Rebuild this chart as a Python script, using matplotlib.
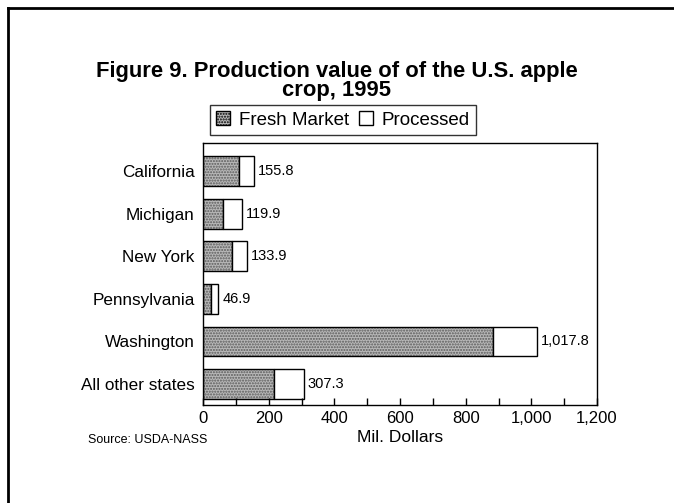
import matplotlib
matplotlib.use("Agg")
import matplotlib.pyplot as plt
from matplotlib.patches import Patch
from matplotlib.lines import Line2D

plt.rcParams['font.family'] = ['Liberation Sans', 'DejaVu Sans']

states = ["California", "Michigan", "New York", "Pennsylvania", "Washington", "All other states"]
totals = [155.8, 119.9, 133.9, 46.9, 1017.8, 307.3]
fresh = [110, 60, 89, 24, 882, 217]
processed = [t - f for t, f in zip(totals, fresh)]
x_ticks = [0, 200, 400, 600, 800, 1000, 1200]
x_ticklabels = ["0", "200", "400", "600", "800", "1,000", "1,200"]

W, H = 674, 503
fig = plt.figure(figsize=(W / 100, H / 100), dpi=100)
ax_top, ax_bot = 143, 405
ax = fig.add_axes([203 / W, 1 - ax_bot / H, (597 - 203) / W, (ax_bot - ax_top) / H])

y = list(range(len(states)))
h = 0.70
ax.barh(y, fresh, height=h, color="#b8b8b8", edgecolor="#5a5a5a", hatch="......", linewidth=0)
ax.barh(y, fresh, height=h, facecolor="none", edgecolor="black", linewidth=1.0)
ax.barh(y, processed, left=fresh, height=h, color="white", edgecolor="black", linewidth=1.0)

for yi, t in zip(y, totals):
    ax.text(t + 12, yi, f"{t:,.1f}", va="center", ha="left", fontsize=10.5)

ax.set_xlim(0, 1200)
ax.set_ylim(5.49, -0.657)
ax.set_yticks(y)
ax.set_yticklabels(states, fontsize=12.3)
ax.set_xticks(x_ticks)
ax.set_xticklabels(x_ticklabels, fontsize=12)
ax.set_xticks(range(100, 1200, 200), minor=True)
ax.tick_params(axis="x", which="both", direction="in", length=5, width=1, pad=4)
ax.tick_params(axis="y", length=0, pad=6)
for s in ax.spines.values():
    s.set_linewidth(1.0)
ax.set_xlabel("Mil. Dollars", fontsize=12.5, labelpad=3)

fig.text(0.5, 1 - 71 / H, "Figure 9. Production value of of the U.S. apple",
         ha="center", va="center", fontsize=15.8, fontweight="bold")
fig.text(0.5, 1 - 90 / H, "crop, 1995",
         ha="center", va="center", fontsize=15.8, fontweight="bold")

handles = [Patch(facecolor="#b8b8b8", edgecolor="black", hatch="......"),
           Patch(facecolor="white", edgecolor="black")]
leg = fig.legend(handles, ["Fresh Market", "Processed"], loc="center",
                 bbox_to_anchor=(343 / W, 1 - 120 / H), ncol=2, frameon=True, fancybox=False,
                 fontsize=13.5, handlelength=0.75, handleheight=0.7, handletextpad=0.45,
                 columnspacing=0.55, borderpad=0.35)
leg.get_frame().set_edgecolor("black")
leg.get_frame().set_linewidth(1.0)

fig.text(88 / W, 1 - 440 / H, "Source: USDA-NASS", ha="left", va="center", fontsize=9)

fig.add_artist(Line2D([0.012, 1.0], [0.984, 0.984], color="black", linewidth=2, transform=fig.transFigure))
fig.add_artist(Line2D([0.012, 0.012], [0.0, 0.984], color="black", linewidth=2, transform=fig.transFigure))

fig.savefig("out.png", dpi=100)
